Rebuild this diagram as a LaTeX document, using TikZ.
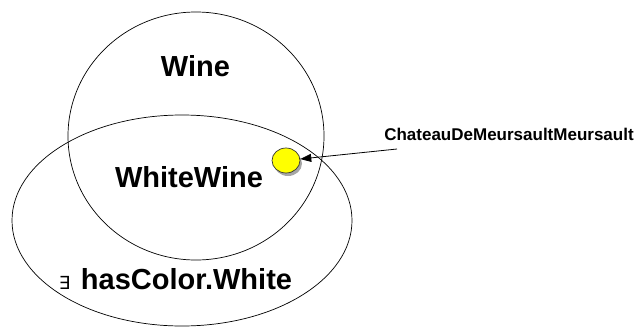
\documentclass[tikz,border=0pt]{standalone}
\usepackage{fontspec}
\setmainfont{Liberation Sans}
\newfontfamily\symfont{DejaVu Sans}
\usetikzlibrary{shapes.geometric,arrows.meta,shadows}
\definecolor{dotyellow}{HTML}{FFFF00}
\tikzset{
  setshape/.style={draw=black, line width=0.7pt, ellipse, inner sep=0pt},
  biglabel/.style={font=\bfseries\fontsize{29}{30}\selectfont, inner sep=0pt, anchor=base},
  smalllabel/.style={font=\bfseries\fontsize{17}{19}\selectfont, inner sep=0pt, anchor=base},
  individual/.style={ellipse, draw=black!80, line width=0.7pt, fill=dotyellow, inner sep=0pt,
    minimum width=28pt, minimum height=25pt,
    drop shadow={shadow xshift=2pt, shadow yshift=-3pt, opacity=0.35, fill=black}},
  pointer/.style={draw=black, line width=0.8pt, -{Triangle[length=11pt,width=8pt]}}
}
\begin{document}
\begin{tikzpicture}[x=1pt,y=-1pt]
\useasboundingbox (0,0) rectangle (634,327);
\node[setshape, minimum width=256pt, minimum height=248pt] (wine) at (196,136) {};
\node[setshape, minimum width=340pt, minimum height=211pt] (color) at (182,220.5) {};
\node[biglabel] (winelbl) at (195.5,76) {Wine};
\node[biglabel] (whitewinelbl) at (189,187) {WhiteWine};
\node[biglabel] (colorlbl) at (186.5,289) {hasColor.White};
\node[inner sep=0pt, anchor=base, font=\symfont\fontsize{18}{19}\selectfont] (exists) at (64.5,289) {∃};
\node[individual] (dot) at (286,160.5) {};
\node[smalllabel] (chateau) at (509,140.5) {ChateauDeMeursaultMeursault};
\coordinate (src) at (397,149);
\draw[pointer] (src) -- (dot);
\end{tikzpicture}
\end{document}
